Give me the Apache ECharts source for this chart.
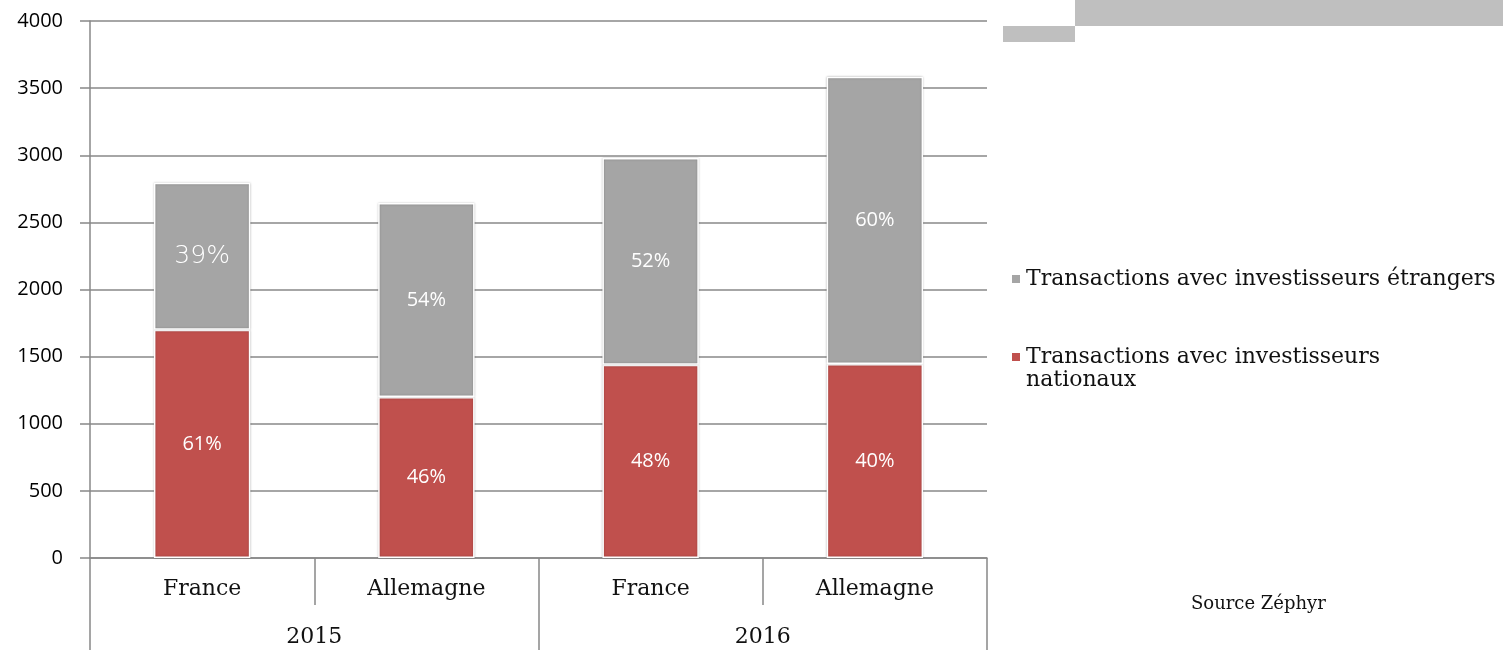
<!DOCTYPE html>
<html>
<head>
<meta charset="utf-8">
<script src="https://cdn.jsdelivr.net/npm/echarts@6/dist/echarts.min.js"></script>
<style>
  html, body { margin: 0; padding: 0; background: #fff; }
  #chart { width: 1503px; height: 650px; }
</style>
</head>
<body>
<div id="chart"></div>
<script>
// données
var pays = ['France', 'Allemagne', 'France', 'Allemagne'];
var annees = ['2015', '2016'];
var nationaux = [1700, 1200, 1440, 1445];
var etrangers = [1095, 1445, 1540, 2140];
var pctNationaux = ['61%', '46%', '48%', '40%'];
var pctEtrangers = ['39%', '54%', '52%', '60%'];
var yTicks = [0, 4000, 500];

var serif = 'DejaVu Serif';
var sans = 'Open Sans';

var chart = echarts.init(document.getElementById('chart'));

function barData(vals, pcts, big) {
    var out = [];
    for (var i = 0; i < vals.length; i++) {
        var item = {value: vals[i], pct: pcts[i]};
        if (big && i === 0) {
            item.label = {fontSize: 25, fontFamily: 'DejaVu Sans', fontWeight: 300};
        }
        out.push(item);
    }
    return out;
}

var barStyle = {
    borderColor: '#fff',
    borderWidth: 1.5,
    shadowBlur: 2,
    shadowColor: 'rgba(0,0,0,0.25)'
};

var option = {
    animation: false,
    grid: {left: 90, right: 516, top: 21, bottom: 92},
    legend: [{
        data: ['Transactions avec investisseurs étrangers'],
        left: 1005, top: 263,
        icon: 'rect',
        itemWidth: 10, itemHeight: 10, itemGap: 0,
        textStyle: {fontFamily: serif, fontSize: 22, color: '#111'}
    }, {
        data: ['Transactions avec investisseurs nationaux'],
        left: 1005, top: 341,
        icon: 'rect',
        itemWidth: 10, itemHeight: 10,
        formatter: function () { return 'Transactions avec investisseurs'; },
        textStyle: {fontFamily: serif, fontSize: 22, color: '#111'}
    }],
    xAxis: [{
        type: 'category',
        data: pays,
        position: 'bottom',
        axisLine: {show: true, lineStyle: {color: '#888', width: 1.5}},
        axisTick: {show: true, length: 47, interval: 0, alignWithLabel: false, lineStyle: {color: '#888', width: 1.5}},
        axisLabel: {margin: 20, fontFamily: serif, fontSize: 22, color: '#111'}
    }, {
        type: 'category',
        data: annees,
        position: 'bottom',
        axisLine: {show: false},
        axisTick: {show: true, length: 92, interval: 0, alignWithLabel: false, lineStyle: {color: '#888', width: 1.5}},
        axisLabel: {margin: 68, fontFamily: serif, fontSize: 22, color: '#111'}
    }],
    yAxis: {
        type: 'value',
        min: yTicks[0], max: yTicks[1], interval: yTicks[2],
        axisLine: {show: true, lineStyle: {color: '#888', width: 1.5}},
        axisTick: {show: true, length: 10, lineStyle: {color: '#888', width: 1.5}},
        splitLine: {lineStyle: {color: '#888', width: 1.5}},
        axisLabel: {
            margin: 27, fontFamily: sans, fontSize: 20, color: '#000',
            formatter: function (v) { return String(v); }
        }
    },
    series: [{
        name: 'Transactions avec investisseurs nationaux',
        type: 'bar',
        stack: 'tot',
        barWidth: '43%',
        data: barData(nationaux, pctNationaux, false),
        itemStyle: Object.assign({color: '#C0504D'}, barStyle),
        label: {
            show: true, position: 'inside', color: '#fff',
            fontFamily: sans, fontSize: 20,
            formatter: function (p) { return p.data.pct; }
        }
    }, {
        name: 'Transactions avec investisseurs étrangers',
        type: 'bar',
        stack: 'tot',
        barWidth: '43%',
        data: barData(etrangers, pctEtrangers, true),
        itemStyle: Object.assign({color: '#A5A5A5'}, barStyle),
        label: {
            show: true, position: 'inside', color: '#fff',
            fontFamily: sans, fontSize: 20,
            formatter: function (p) { return p.data.pct; }
        }
    }],
    graphic: [
        {type: 'rect', left: 1075, top: 0, shape: {width: 428, height: 26}, style: {fill: '#BFBFBF'}},
        {type: 'rect', left: 1003, top: 26, shape: {width: 72, height: 16}, style: {fill: '#BFBFBF'}},
        {type: 'text', left: 1026, top: 369, style: {text: 'nationaux', font: '22px "DejaVu Serif"', fill: '#111'}},
        {type: 'text', left: 1191, top: 595, style: {text: 'Source Zéphyr', font: '18px "DejaVu Serif"', fill: '#111'}}
    ]
};

chart.setOption(option);
window.addEventListener('resize', function () {
    chart.resize();
});
</script>
</body>
</html>
